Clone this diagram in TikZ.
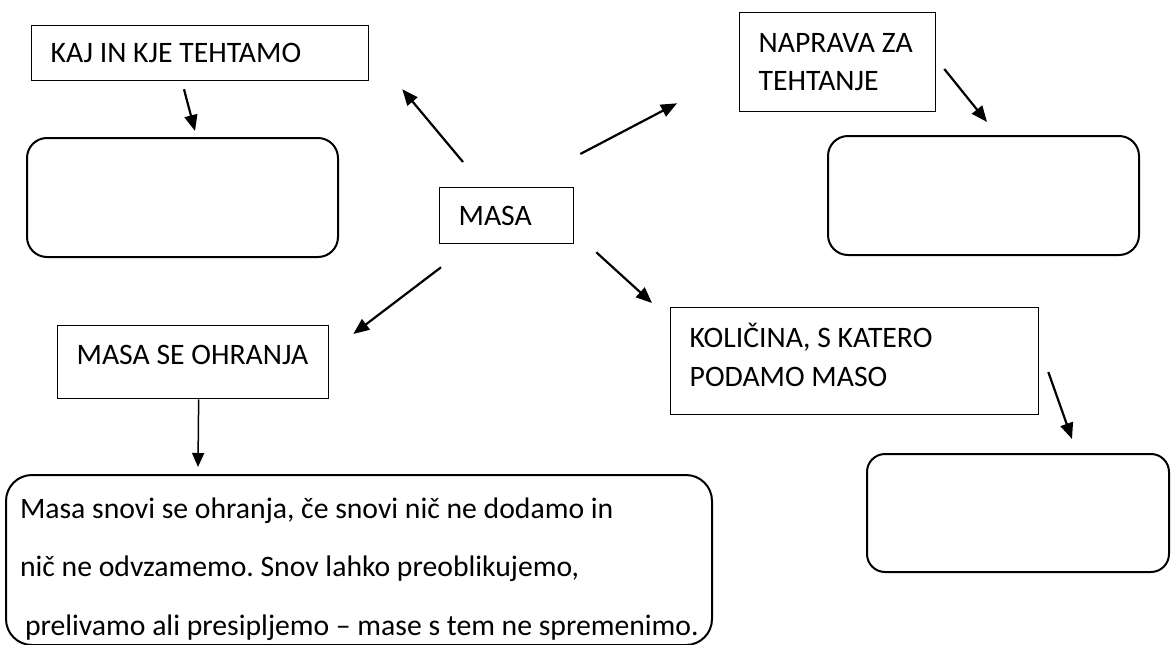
\documentclass[tikz,border=0pt]{standalone}
\usepackage{fontspec}
\setmainfont{Carlito}
\usepackage{tikz}
\usetikzlibrary{arrows.meta}
\frenchspacing

\begin{document}
\begin{tikzpicture}[
  x=1pt, y=-1pt,
  font=\fontsize{29.7pt}{38.5pt}\selectfont,
  box/.style={draw, line width=1.3pt, anchor=north west, align=flush left, inner xsep=19pt, inner ysep=0pt},
  rbox/.style={draw, line width=2pt, rounded corners=20pt, anchor=north west, inner sep=0pt},
  arr/.style={-{Triangle[length=16pt, width=13pt]}, line width=2.2pt},
  thinarr/.style={-{Triangle[length=14pt, width=12pt]}, line width=1.5pt}
]
\useasboundingbox (0,0) rectangle (1171,645);

% centre
\node[box, text width=96pt, minimum height=56pt] (masa) at (439,187) {MASA};

% questions
\node[box, text width=299pt, minimum height=55pt] (kaj) at (31,25) {KAJ IN KJE TEHTAMO};
\node[box, text width=158pt, minimum height=99pt] (naprava) at (739,12) {NAPRAVA ZA\\TEHTANJE};
\node[box, text width=330pt, minimum height=107pt, text height=19pt, text depth=46pt] (kolicina) at (670,307) {KOLIČINA, S KATERO\\PODAMO MASO};
\node[box, text width=233pt, minimum height=73pt, text depth=14pt] (ohranja) at (57,325) {MASA SE OHRANJA};

% answers
\node[rbox, minimum width=311pt, minimum height=119pt] (kajans) at (26,137) {};
\node[rbox, minimum width=311pt, minimum height=119pt] (napans) at (827,135) {};
\node[rbox, rounded corners=18pt, minimum width=302pt, minimum height=118pt] (kolans) at (866,453) {};
\node[rbox, rounded corners=26pt, minimum width=706pt, minimum height=170pt, text width=678pt, align=flush left, inner xsep=14pt, text height=39pt,
  font=\fontsize{29.7pt}{58.5pt}\selectfont] (razlaga) at (5,474)
  {Masa snovi se ohranja, če snovi nič ne dodamo in\\
   nič ne odvzamemo. Snov lahko preoblikujemo,\\
   \mbox{\hspace*{5pt}prelivamo ali presipljemo – mase s tem ne spremenimo.}};

\draw[arr] ([shift={(24,-25)}]masa.north west) -- ([shift={(33,8)}]kaj.south east);
\draw[arr] ([shift={(6,-33)}]masa.north east) -- ([shift={(-62,-9)}]naprava.south west);
\draw[arr] ([shift={(2,23)}]masa.south west) -- ([shift={(24,9)}]ohranja.north east);
\draw[arr] ([shift={(22,8)}]masa.south east) -- ([shift={(-18,-4)}]kolicina.north west);
\draw[arr] ([shift={(153,8)}]kaj.south west) -- ([shift={(169,-6)}]kajans.north west);
\draw[arr] ([shift={(8,57)}]naprava.north east) -- ([shift={(160,-13)}]napans.north west);
\draw[arr] ([shift={(9,65)}]kolicina.north east) -- ([shift={(206,-14)}]kolans.north west);
\draw[thinarr] ([shift={(5.5,0)}]ohranja.south) -- ([shift={(193,-7)}]razlaga.north west);
\end{tikzpicture}
\end{document}
